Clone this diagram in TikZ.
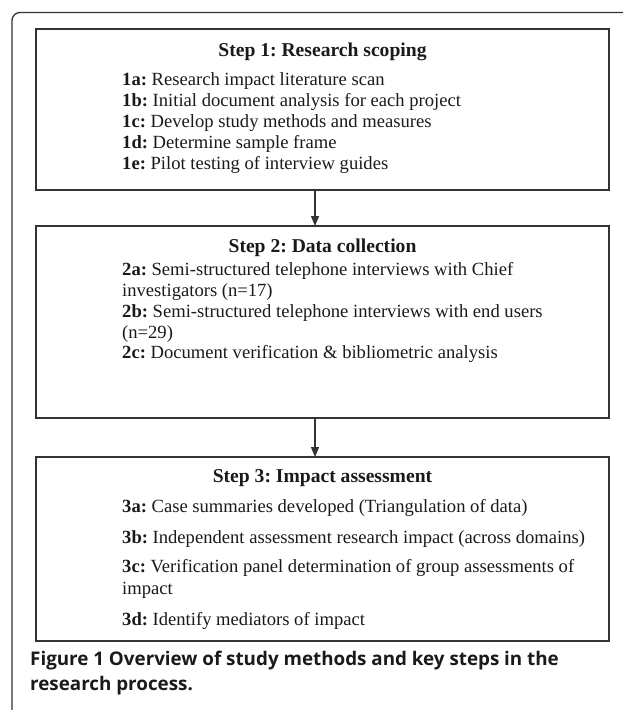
\documentclass[tikz,border=0pt]{standalone}
\usepackage{fontspec}
\setmainfont{Liberation Serif}
\newfontfamily\capfont{Open Sans}
\usetikzlibrary{arrows.meta}
\definecolor{linegray}{HTML}{333333}
\definecolor{txt}{HTML}{1A1A1A}
\frenchspacing
\begin{document}
\begin{tikzpicture}[x=1pt,y=-1pt,
  stepbox/.style={draw=linegray, line width=1.2pt, minimum width=573pt, anchor=north west, inner sep=0pt, outer sep=0pt},
  steptitle/.style={anchor=base, inner sep=0pt, text=txt, font=\bfseries\fontsize{19.6}{22}\selectfont},
  item/.style={anchor=base west, inner sep=0pt, text=txt, font=\fontsize{18.6}{21}\selectfont},
  captext/.style={anchor=base west, inner sep=0pt, text=txt, font=\capfont\bfseries\fontsize{18.8}{22}\selectfont},
  frame/.style={draw=linegray, line width=1.3pt, rounded corners=8pt},
  flow/.style={draw=linegray, line width=1.2pt, -{Triangle[length=10pt,width=8pt]}}]
\useasboundingbox (0,0) rectangle (622,710);
% outer frame
\draw[frame] (12,712) -- (12,12.5) -- (626,12.5);
% boxes
\node[stepbox, minimum height=161pt] (box1) at (36,29) {};
\node[stepbox, minimum height=192pt] (box2) at (36,226) {};
\node[stepbox, minimum height=184pt] (box3) at (36,457) {};
% box 1 text
\node[steptitle] (t1) at (322.5,56) {Step 1: Research scoping};
\node[item] (i1a) at (122,85) {\textbf{1a:} Research impact literature scan};
\node[item] (i1b) at (122,106) {\textbf{1b:} Initial document analysis for each project};
\node[item] (i1c) at (122,127) {\textbf{1c:} Develop study methods and measures};
\node[item] (i1d) at (122,148) {\textbf{1d:} Determine sample frame};
\node[item] (i1e) at (122,169) {\textbf{1e:} Pilot testing of interview guides};
% box 2 text
\node[steptitle] (t2) at (322.5,252) {Step 2: Data collection};
\node[item] (i2a) at (122,275) {\textbf{2a:} Semi-structured telephone interviews with Chief};
\node[item] (i2a2) at (122,296) {investigators (n=17)};
\node[item] (i2b) at (122,317) {\textbf{2b:} Semi-structured telephone interviews with end users};
\node[item] (i2b2) at (122,338) {(n=29)};
\node[item] (i2c) at (122,358) {\textbf{2c:} Document verification \& bibliometric analysis};
% box 3 text
\node[steptitle] (t3) at (322.5,482) {Step 3: Impact assessment};
\node[item] (i3a) at (122,512) {\textbf{3a:} Case summaries developed (Triangulation of data)};
\node[item] (i3b) at (122,543) {\textbf{3b:} Independent assessment research impact (across domains)};
\node[item] (i3c) at (122,572) {\textbf{3c:} Verification panel determination of group assessments of};
\node[item] (i3c2) at (122,594) {impact};
\node[item] (i3d) at (122,625) {\textbf{3d:} Identify mediators of impact};
% connectors
\coordinate (ax) at (315,0);
\draw[flow] (ax |- box1.south) -- (ax |- box2.north);
\draw[flow] (ax |- box2.south) -- (ax |- box3.north);
% caption
\node[captext] (cap1) at (30,665) {Figure 1 Overview of study methods and key steps in the};
\node[captext] (cap2) at (30,690) {research process.};
\end{tikzpicture}
\end{document}
